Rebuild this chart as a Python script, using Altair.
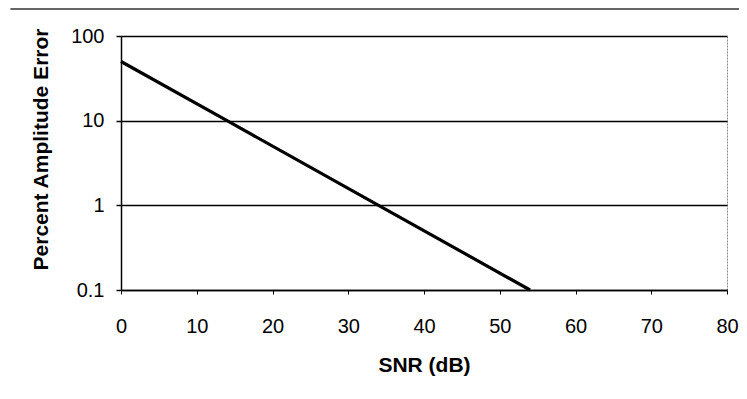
import altair as alt
import pandas as pd

snr_db = [0, 14, 34, 54]
pct_error = [50, 10, 1, 0.1]
x_ticks = [0, 10, 20, 30, 40, 50, 60, 70, 80]
y_ticks = [0.1, 1, 10, 100]

df = pd.DataFrame({"snr": snr_db, "err": pct_error})

FONT = "Liberation Sans"

line = alt.Chart(df).mark_line(color="black", strokeWidth=3.2).encode(
    x=alt.X("snr:Q",
            scale=alt.Scale(domain=[0, 80], nice=False),
            axis=alt.Axis(values=x_ticks, title="SNR (dB)", grid=False,
                          tickSize=4, tickColor="black", labelPadding=22,
                          labelFlush=False,
                          domainColor="black", domainWidth=1.5,
                          titlePadding=18)),
    y=alt.Y("err:Q",
            scale=alt.Scale(type="log", domain=[0.1, 100], nice=False),
            axis=alt.Axis(values=y_ticks, format=".1~f", title="Percent Amplitude Error",
                          grid=True, gridColor="black", gridWidth=1.5,
                          tickSize=5, tickColor="black", tickWidth=1.5,
                          labelPadding=12, domainColor="black", domainWidth=1.5,
                          titlePadding=19, titleY=113)),
)

top_rule = alt.Chart(pd.DataFrame({"a": [0]})).mark_rule(
    color="#333", strokeWidth=1.5, clip=False
).encode(
    x=alt.datum(-14.6), x2=alt.datum(83), y=alt.value(-27)
)

chart = alt.layer(line, top_rule).properties(
    width=606, height=254,
    padding={"left": 113, "top": 28, "right": 12, "bottom": 95},
    autosize=alt.AutoSizeParams(type="none"),
).configure_view(
    stroke="#888", strokeDash=[2, 1], strokeWidth=1
).configure_axis(
    labelFont=FONT, titleFont=FONT, labelFontSize=20, titleFontSize=21,
    labelColor="black", titleColor="black", titleFontWeight="bold",
)

chart.save("out.html", embed_options={"renderer": "svg", "actions": False})
